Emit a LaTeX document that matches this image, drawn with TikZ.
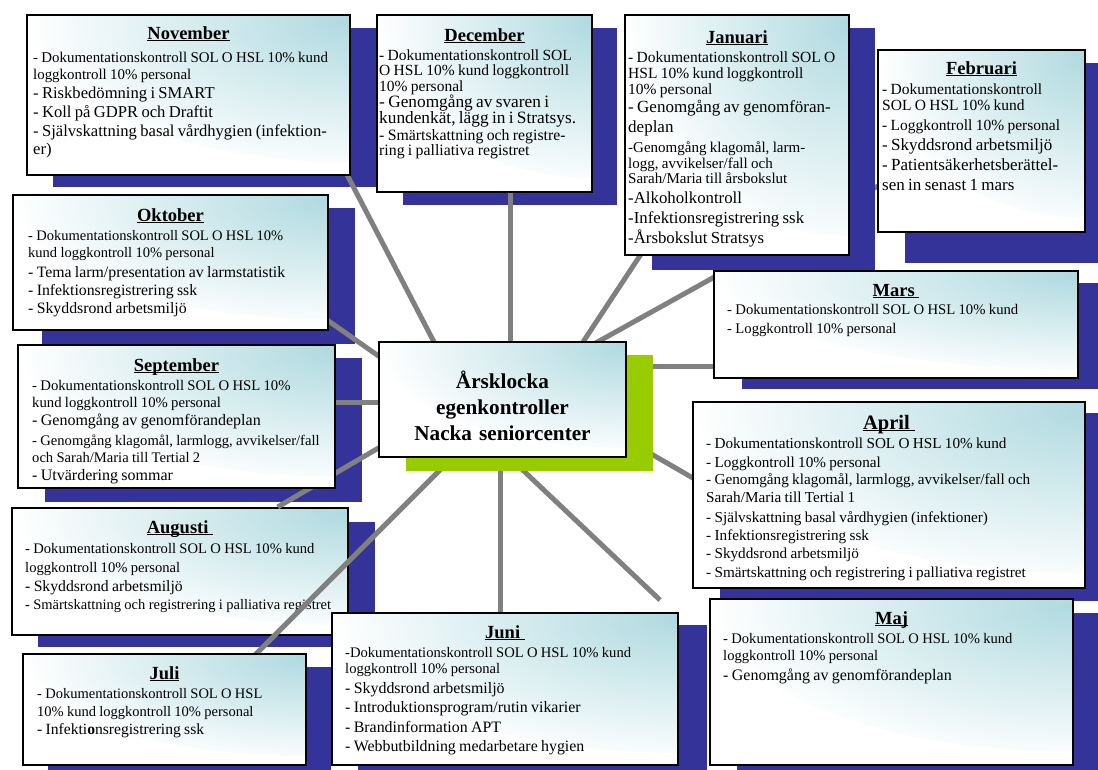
\documentclass[tikz,border=0pt]{standalone}
\usepackage{fontspec}
\setmainfont{Liberation Serif}
\usetikzlibrary{calc}
\definecolor{shblue}{RGB}{51,51,153}
\definecolor{shgreen}{RGB}{153,204,0}
\definecolor{lgray}{RGB}{128,128,128}
\definecolor{boxteal}{RGB}{176,218,224}
\newsavebox\ulbox
\newcommand\ulx[1]{\sbox\ulbox{#1}\rlap{\rule[-2.4pt]{\wd\ulbox}{1.3pt}}\usebox\ulbox}
\newcommand\Ln[3]{{\fontsize{#1}{#2}\selectfont\noindent #3\par}}
\newcommand\monbox[5]{\node[mbox, minimum width={#4-#2}, minimum height={#5-#3}] (#1) at (#2,-#3) {};}
\newcommand\shbox[4]{\fill[shd] (#1,-#2) rectangle (#3,-#4);}
\pgfdeclarelayer{bg}
\pgfdeclarelayer{lowlines}
\pgfdeclarelayer{shadows}
\pgfdeclarelayer{lines}
\pgfsetlayers{bg,lowlines,shadows,lines,main}
\tikzset{
  mbox/.style={draw=black, line width=1.5pt, fill=white, anchor=north west,
    inner sep=0pt, outer sep=0pt,
    path picture={\shade[inner color=boxteal, outer color=white]
      let \p1=($(path picture bounding box.north east)-(path picture bounding box.south west)$) in
      (path picture bounding box.north east) ellipse [x radius={1.0*\x1}, y radius={0.92*\y1}];}},
  body/.style={anchor=base west, inner sep=0pt, text width=600pt, align=left},
  ttl/.style={anchor=base, inner sep=0pt, font=\fontsize{18.5}{20}\selectfont\bfseries},
  conn/.style={draw=lgray, line width=5pt, shorten <=-8pt},
  shd/.style={fill=shblue},
}
\begin{document}
\begin{tikzpicture}[x=1pt,y=1pt]
\useasboundingbox (0,0) rectangle (1098,-769);
\begin{pgfonlayer}{bg}
\fill[white] (0,0) rectangle (1098,-769);
\end{pgfonlayer}

% ---------- shadows ----------
\begin{pgfonlayer}{shadows}
\shbox{53}{28}{376}{187}
\shbox{403}{28}{617}{205}
\shbox{652}{28}{875}{270}
\shbox{905}{63}{1100}{263}
\shbox{42}{208}{355}{344}
\shbox{45}{358}{362}{502}
\shbox{38}{522}{375}{647}
\shbox{48}{667}{331}{775}
\shbox{358}{625}{707}{775}
\shbox{737}{613}{1100}{775}
\shbox{720}{413}{1100}{601}
\shbox{742}{283}{1100}{389}
% Augusti box sits below the connectors
\monbox{aug}{12}{508}{348}{635}
\node[ttl] (augH) at (180,-533) {\ulx{Augusti\ }};
\node[body] (augB) at (25,-553) {%
\Ln{14.6}{19}{- Dokumentationskontroll SOL O HSL 10\% kund}%
\Ln{14.6}{19}{loggkontroll 10\% personal}%
\Ln{15.7}{19}{- Skyddsrond arbetsmiljö}%
\Ln{14.5}{18}{- Smärtskattning och registrering i palliativa registret}};
\end{pgfonlayer}

% ---------- centre ----------
\fill[shgreen] (406,-355) rectangle (653,-471);
\monbox{c}{379}{342}{626}{457}
\node[anchor=base, inner sep=0pt, text width=245pt, align=center,
  font=\fontsize{21.2}{26}\selectfont\bfseries] (cT) at (502.5,-388)
  {Årsklocka\\egenkontroller\\Nacka seniorcenter};

% ---------- month boxes ----------
\monbox{nov}{27}{15}{350}{175}
\node[ttl] (novH) at (188.5,-39) {\ulx{November}};
\node[body] (novB) at (33,-62) {%
\Ln{14.9}{17.5}{- Dokumentationskontroll SOL O HSL 10\% kund}%
\Ln{14.9}{17.5}{loggkontroll 10\% personal}%
\Ln{16.6}{19}{- Riskbedömning i SMART}%
\Ln{16.6}{19}{- Koll på GDPR och Draftit}%
\Ln{16.6}{19}{- Självskattning basal vårdhygien (infektion-}%
\Ln{16.6}{17.5}{er)}};

\monbox{dec}{377}{15}{592}{192}
\node[ttl] (decH) at (484.5,-41) {\ulx{December}};
\node[body] (decB) at (379,-60) {%
\Ln{15.5}{15.5}{\makebox[201pt][s]{- Dokumentationskontroll SOL}}%
\Ln{15.5}{15.5}{\makebox[201pt][s]{O HSL 10\% kund loggkontroll}}%
\Ln{15.5}{15.5}{10\% personal}%
\Ln{17.3}{16}{- Genomgång av svaren i}%
\Ln{17.3}{15.5}{kundenkät, lägg in i Stratsys.}%
\Ln{15.8}{16.5}{- Smärtskattning och registre-}%
\Ln{15.8}{15}{ring i palliativa registret}};

\monbox{jan}{625}{15}{849}{255}
\node[ttl] (janH) at (737,-43) {\ulx{Januari}};
\node[body] (janB) at (628,-62) {%
\Ln{15.5}{16}{- Dokumentationskontroll SOL O}%
\Ln{15.5}{16}{HSL 10\% kund loggkontroll}%
\Ln{15.5}{16}{10\% personal}%
\Ln{17}{18}{- Genomgång av genomföran-}%
\Ln{17}{20}{deplan}%
\Ln{15}{20}{-Genomgång klagomål, larm-}%
\Ln{15}{16}{logg, avvikelser/fall och}%
\Ln{15}{15.5}{Sarah/Maria till årsbokslut}%
\Ln{16.8}{20}{-Alkoholkontroll}%
\Ln{16.8}{20}{-Infektionsregistrering ssk}%
\Ln{16.8}{20}{-Årsbokslut Stratsys}};

\monbox{feb}{878}{50}{1085}{232}
\node[ttl] (febH) at (981.5,-74) {\ulx{Februari}};
\node[body] (febB) at (882,-94) {%
\Ln{15.5}{16}{- Dokumentationskontroll}%
\Ln{15.5}{16}{SOL O HSL 10\% kund}%
\Ln{15.5}{20}{- Loggkontroll 10\% personal}%
\Ln{17}{20}{- Skyddsrond arbetsmiljö}%
\Ln{17}{20}{- Patientsäkerhetsberättel-}%
\Ln{17}{20}{sen in senast 1 mars}};

\monbox{okt}{13}{195}{328}{330}
\node[ttl] (oktH) at (170.5,-221) {\ulx{Oktober}};
\node[body] (oktB) at (28,-240) {%
\Ln{14.5}{17}{- Dokumentationskontroll SOL O HSL 10\%}%
\Ln{14.5}{17}{kund loggkontroll 10\% personal}%
\Ln{15.8}{20}{- Tema larm/presentation av larmstatistik}%
\Ln{15.8}{18}{- Infektionsregistrering ssk}%
\Ln{15.8}{18}{- Skyddsrond arbetsmiljö}};

\monbox{sep}{18}{345}{335}{488}
\node[ttl] (sepH) at (176.5,-371) {\ulx{September}};
\node[body] (sepB) at (32,-390) {%
\Ln{14.7}{17}{- Dokumentationskontroll SOL O HSL 10\%}%
\Ln{14.7}{17}{kund loggkontroll 10\% personal}%
\Ln{16}{18}{- Genomgång av genomförandeplan}%
\Ln{14.6}{20}{- Genomgång klagomål, larmlogg, avvikelser/fall}%
\Ln{14.6}{17}{och Sarah/Maria till Tertial 2}%
\Ln{16}{18}{- Utvärdering sommar}};

\monbox{jul}{23}{654}{306}{765}
\node[ttl] (julH) at (164.5,-679) {\ulx{Juli}};
\node[body] (julB) at (37,-698) {%
\Ln{14.5}{18}{- Dokumentationskontroll SOL O HSL}%
\Ln{14.5}{18}{10\% kund loggkontroll 10\% personal}%
\Ln{15.6}{18}{- Infekti\textbf{o}nsregistrering ssk}};

\monbox{jun}{332}{613}{678}{765}
\node[ttl] (junH) at (505,-638) {\ulx{Juni\ }};
\node[body] (junB) at (345,-657) {%
\Ln{14.6}{16}{-Dokumentationskontroll SOL O HSL 10\% kund}%
\Ln{14.6}{16}{loggkontroll 10\% personal}%
\Ln{15.9}{20}{- Skyddsrond arbetsmiljö}%
\Ln{15.9}{19}{- Introduktionsprogram/rutin vikarier}%
\Ln{15.9}{20}{- Brandinformation APT}%
\Ln{15.9}{19}{- Webbutbildning medarbetare hygien}};

\monbox{maj}{710}{599}{1073}{765}
\node[ttl] (majH) at (891.5,-624) {\ulx{Maj}};
\node[body] (majB) at (723,-643) {%
\Ln{14.6}{17}{- Dokumentationskontroll SOL O HSL 10\% kund}%
\Ln{14.6}{17}{loggkontroll 10\% personal}%
\Ln{16}{20}{- Genomgång av genomförandeplan}};

\monbox{apr}{693}{402}{1085}{588}
\node[ttl, font=\fontsize{20.5}{22}\selectfont\bfseries] (aprH) at (889,-429) {\ulx{April\ }};
\node[body] (aprB) at (706,-448) {%
\Ln{15.2}{19}{- Dokumentationskontroll SOL O HSL 10\% kund}%
\Ln{15.2}{19}{- Loggkontroll 10\% personal}%
\Ln{15.2}{17}{- Genomgång klagomål, larmlogg, avvikelser/fall och}%
\Ln{15.2}{18}{Sarah/Maria till Tertial 1}%
\Ln{15.2}{20}{- Självskattning basal vårdhygien (infektioner)}%
\Ln{15.2}{18}{- Infektionsregistrering ssk}%
\Ln{15.2}{18}{- Skyddsrond arbetsmiljö}%
\Ln{15.2}{19}{- Smärtskattning och registrering i palliativa registret}};

\monbox{mar}{714}{271}{1078}{378}
\node[ttl] (marH) at (896,-296) {\ulx{Mars\ }};
\node[body] (marB) at (727,-314) {%
\Ln{14.7}{19}{- Dokumentationskontroll SOL O HSL 10\% kund}%
\Ln{14.7}{19}{- Loggkontroll 10\% personal}};

% ---------- connectors ----------
\coordinate (majEnd) at (660,-600);
\begin{pgfonlayer}{lowlines}
\draw[conn] ($(c.north west)+(218.5,0)$) -- ($(feb.north west)+(10,-130.5)$);
\end{pgfonlayer}
\begin{pgfonlayer}{lines}
\draw[conn] ($(c.north west)+(55,0)$) -- ($(nov.south east)+(-8,10)$);
\draw[conn] ($(c.north west)+(131,0)$) -- ($(dec.south west)+(133,10)$);
\draw[conn] ($(c.north west)+(204,0)$) -- ($(jan.south west)+(22,10)$);
\draw[conn] ($(c.north east)+(0,-24)$) -- ($(mar.north west)+(10,-95)$);
\draw[conn] ($(c.north east)+(0,-97.4)$) -- ($(apr.north west)+(10,-81.8)$);
\draw[conn] ($(c.south west)+(130,0)$) -- (majEnd);
\draw[conn] ($(c.south west)+(121,0)$) -- ($(jun.north west)+(168,-10)$);
\draw[conn] ($(c.south west)+(74,0)$) -- ($(jul.north west)+(223,-10)$);
\draw[conn, shorten >=2pt] ($(c.south west)+(0,9.3)$) -- ($(aug.north west)+(264,0)$);
\draw[conn] ($(c.north west)+(0,-60)$) -- ($(sep.north east)+(-10,-57)$);
\draw[conn] ($(c.north west)+(0,-14.3)$) -- ($(okt.north east)+(-10,-118.6)$);
\end{pgfonlayer}
\end{tikzpicture}
\end{document}
